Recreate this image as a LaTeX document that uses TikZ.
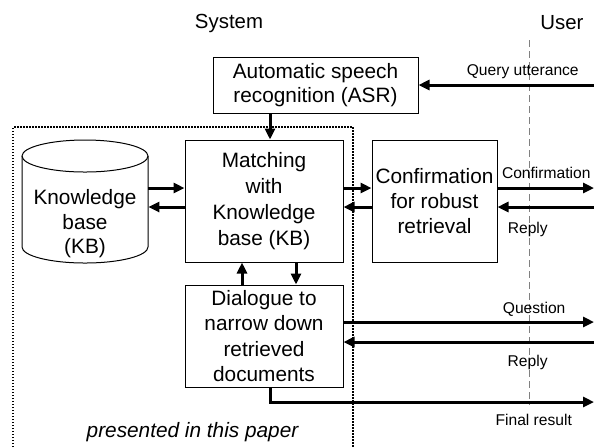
\documentclass[tikz,border=0pt]{standalone}
\usepackage{fontspec}
\setmainfont{Liberation Sans}
\usetikzlibrary{arrows.meta,positioning,calc}

\tikzset{
  block/.style={draw, line width=0.5pt, inner sep=0pt, align=center,
    font=\fontsize{10.4}{12.3}\selectfont},
  flow/.style={line width=1.5pt, -{Triangle[length=5.5pt,width=5pt]}},
  msg/.style={font=\fontsize{7.8}{9}\selectfont, inner sep=0pt, anchor=base},
  heading/.style={font=\fontsize{10.2}{12}\selectfont, inner sep=0pt, anchor=base},
}

\begin{document}
\begin{tikzpicture}[x=0.5pt, y=-0.5pt]
  \useasboundingbox (0,0) rectangle (594,447);

  % headings and the system/user boundary
  \node[heading] (sys) at (229,28) {System};
  \node[heading] (usr) at (562,29) {User};
  \draw[gray, line width=0.5pt, dash pattern=on 3.5pt off 2pt] (529,40) -- (529,405);

  % part covered by the paper
  \draw[line width=0.75pt, dash pattern=on 0.75pt off 0.75pt]
    (13,447) -- (13,127) -- (353,127) -- (353,447);
  \node[font=\fontsize{10.4}{12}\selectfont\itshape, inner sep=0pt, anchor=base]
    (paper) at (192.5,437) {presented in this paper};

  % processing blocks
  \node[block, minimum width=102.5pt, minimum height=28pt] (asr) at (315.5,85)
    {Automatic speech\\recognition (ASR)};
  \node[block, minimum width=79pt, minimum height=61pt] (match) at (264,201)
    {Matching\\[0.8pt]with\\[0.8pt]Knowledge\\[0.8pt]base (KB)};
  \node[block, minimum width=62.5pt, minimum height=61pt] (conf) at (434.5,201)
    {Confirmation\\for robust\\retrieval};
  \node[block, minimum width=79pt, minimum height=51pt] (dial) at (264,336)
    {Dialogue to\\[0.3pt]narrow down\\[0.3pt]retrieved\\[0.3pt]documents};

  % knowledge base drum
  \draw[line width=0.5pt] (22,156) -- (22,247)
    arc[start angle=180, end angle=360, x radius=31.5pt, y radius=8pt] -- (148,156);
  \draw[line width=0.5pt] (85,156) ellipse [x radius=31.5pt, y radius=8pt];
  \node[align=center, inner sep=0pt, minimum width=63pt,
    font=\fontsize{10.4}{12.3}\selectfont] (kb) at (85,224) {Knowledge\\base\\(KB)};

  % right margin ends for the user side
  \coordinate (edge) at (594,0);
  \coordinate (fin) at (594,402);

  % connectors
  \draw[flow] (edge |- asr.east) -- node[msg, pos=0.406, yshift=5pt] {Query utterance} (asr.east);
  \draw[flow] ([xshift=3pt]match.north |- asr.south) -- ([xshift=3pt]match.north);

  \draw[flow] ([yshift=6.5pt]match.west -| kb.east) -- ([yshift=6.5pt]match.west);
  \draw[flow] ([yshift=-3pt]match.west) -- ([yshift=-3pt]match.west -| kb.east);

  \draw[flow] ([yshift=6.5pt]match.east) -- ([yshift=6.5pt]conf.west);
  \draw[flow] ([yshift=-3pt]conf.west) -- ([yshift=-3pt]match.east);

  \draw[flow] ([yshift=6.5pt]conf.east) -- node[msg, pos=0.505, yshift=5pt] {Confirmation}
    ([yshift=6.5pt]conf.east -| edge);
  \draw[flow] ([yshift=-3pt]conf.east -| edge) -- node[msg, pos=0.686, yshift=-13pt] {Reply}
    ([yshift=-3pt]conf.east);

  \draw[flow] ([xshift=-11pt]dial.north) -- ([xshift=-11pt]match.south);
  \draw[flow] ([xshift=16pt]match.south) -- ([xshift=16pt]dial.north);

  \draw[flow] ([yshift=7pt]dial.east) -- node[msg, pos=0.761, yshift=4.5pt] {Question}
    ([yshift=7pt]dial.east -| edge);
  \draw[flow] ([yshift=-3pt]dial.east -| edge) -- node[msg, pos=0.265, yshift=-12pt] {Reply}
    ([yshift=-3pt]dial.east);

  \draw[flow] ([xshift=3pt]dial.south) |- node[msg, pos=0.907, yshift=-11.5pt] {Final result} (fin);
\end{tikzpicture}
\end{document}
